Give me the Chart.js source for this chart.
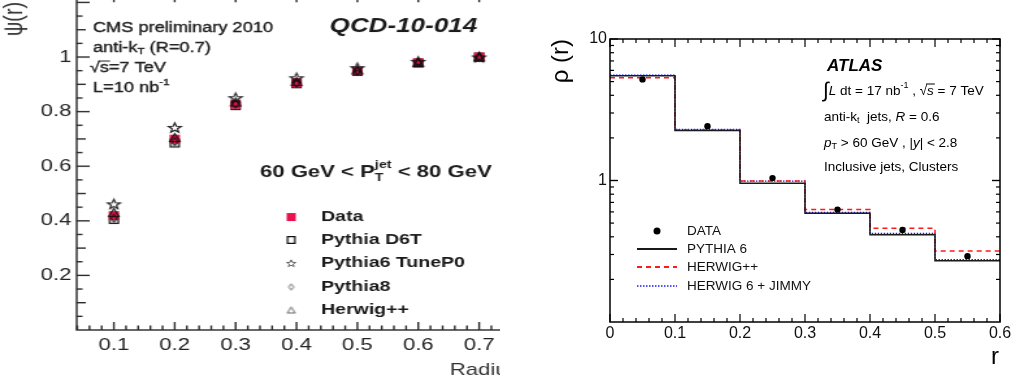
<!DOCTYPE html>
<html>
<head>
<meta charset="utf-8">
<script src="https://cdn.jsdelivr.net/npm/chart.js@4.4.1/dist/chart.umd.min.js"></script>
<style>
  html, body { margin: 0; padding: 0; background: #fff; }
  #wrap { position: relative; width: 1019px; height: 381px; overflow: hidden; background: #fff; }
  #psiBox { position: absolute; left: 0; top: 0; width: 500px; height: 381px; overflow: hidden; }
  #psiChart { position: absolute; left: 0; top: -20px; transform: scaleX(1.3); transform-origin: 0 0; filter: blur(0.5px); }
  #rhoChart { position: absolute; left: 540px; top: 0; }
</style>
</head>
<body>
<div id="wrap">
  <div id="psiBox"><canvas id="psiChart" width="440" height="401"></canvas></div>
  <canvas id="rhoChart" width="479" height="381"></canvas>
</div>
<script>
// ---- Integrated jet shape psi(r), 60 GeV < pT < 80 GeV ----
const psiRadii    = [0.1, 0.2, 0.3, 0.4, 0.5, 0.6, 0.7];
const psiData     = [0.419, 0.699, 0.827, 0.906, 0.949, 0.979, 1.0];
const psiD6T      = [0.405, 0.685, 0.822, 0.902, 0.947, 0.978, 1.0];
const psiTuneP0   = [0.462, 0.742, 0.851, 0.924, 0.961, 0.984, 1.0];
const psiPythia8  = [0.410, 0.690, 0.828, 0.905, 0.950, 0.980, 1.0];
const psiHerwigPP = [0.430, 0.705, 0.835, 0.910, 0.952, 0.980, 1.0];
const psiXTicks   = [0.1, 0.2, 0.3, 0.4, 0.5, 0.6, 0.7];
const psiYTicks   = [0.2, 0.4, 0.6, 0.8, 1];

// ---- Differential jet shape rho(r), anti-kt R = 0.6 ----
const rhoEdges        = [0, 0.1, 0.2, 0.3, 0.4, 0.5, 0.6];
const rhoCenters      = [0.05, 0.15, 0.25, 0.35, 0.45, 0.55];
const rhoData         = [5.18, 2.42, 1.04, 0.623, 0.447, 0.292];
const rhoPythia6      = [5.49, 2.26, 0.957, 0.586, 0.414, 0.271];
const rhoHerwigPP     = [5.32, 2.27, 0.99, 0.623, 0.459, 0.317];
const rhoHerwig6Jimmy = [5.56, 2.30, 0.99, 0.596, 0.423, 0.276];
const rhoXTicks       = [0, 0.1, 0.2, 0.3, 0.4, 0.5, 0.6];
const rhoYTicks       = [1, 10];

const FAMILY = '"Liberation Sans", Arial, Helvetica, sans-serif';
const F = (size, style) => `${style || ''} ${size}px ${FAMILY}`.trim();
Chart.defaults.font.family = FAMILY;

// draws a run of text pieces (sub/superscripts, italics) left to right
function rich(ctx, x, y, parts, heavy) {
  let cx = x;
  for (const p of parts) {
    ctx.font = p.f;
    const w = ctx.measureText(p.t).width;
    ctx.fillText(p.t, cx, y + (p.dy || 0));
    if (heavy) ctx.strokeText(p.t, cx, y + (p.dy || 0));
    if (p.over) {
      ctx.save();
      ctx.lineWidth = 1;
      ctx.strokeStyle = ctx.fillStyle;
      ctx.beginPath();
      ctx.moveTo(cx - 1, y + p.over);
      ctx.lineTo(cx + w + 1, y + p.over);
      ctx.stroke();
      ctx.restore();
    }
    cx += (p.adv !== undefined) ? p.adv : w;
  }
  return cx;
}

function line(ctx, x1, y1, x2, y2) {
  ctx.beginPath(); ctx.moveTo(x1, y1); ctx.lineTo(x2, y2); ctx.stroke();
}

// small marker images for the psi(r) series
function makeMarker(kind, w, h, color, lw) {
  const pad = 2;
  const c = document.createElement('canvas');
  c.width = w + pad * 2; c.height = h + pad * 2;
  const g = c.getContext('2d');
  g.translate(pad, pad);
  g.strokeStyle = color; g.fillStyle = color; g.lineWidth = lw;
  g.lineJoin = 'miter';
  g.beginPath();
  if (kind === 'fillsquare') { g.fillRect(0, 0, w, h); return c; }
  if (kind === 'square') g.rect(lw / 2, lw / 2, w - lw, h - lw);
  if (kind === 'diamond') { g.moveTo(w / 2, 0.5); g.lineTo(w - 0.5, h / 2); g.lineTo(w / 2, h - 0.5); g.lineTo(0.5, h / 2); g.closePath(); }
  if (kind === 'triangle') { g.moveTo(w / 2, 0.5); g.lineTo(w - 0.5, h - 0.5); g.lineTo(0.5, h - 0.5); g.closePath(); }
  if (kind === 'star') {
    const cx = w / 2, cy = h / 2 + 0.6, R = w / 2 - 0.3, r = R * 0.42;
    for (let i = 0; i < 10; i++) {
      const ang = -Math.PI / 2 + i * Math.PI / 5;
      const rad = i % 2 === 0 ? R : r;
      const px = cx + rad * Math.cos(ang), py = cy + rad * Math.sin(ang);
      if (i === 0) g.moveTo(px, py); else g.lineTo(px, py);
    }
    g.closePath();
  }
  g.stroke();
  return c;
}

const mkData   = makeMarker('fillsquare', 8, 9, '#e8144c', 1);
const mkD6T    = makeMarker('square', 8, 9, '#111', 1.3);
const mkTuneP0 = makeMarker('star', 11, 11, '#111', 1.1);
const mkPy8    = makeMarker('diamond', 6, 9, '#111', 1.1);
const mkHerwig = makeMarker('triangle', 9, 9, '#111', 1.1);

// smaller, lighter versions used in the key
const keyData   = makeMarker('fillsquare', 7, 8, '#e8144c', 1);
const keyD6T    = makeMarker('square', 7, 8, '#111', 1.3);
const keyTuneP0 = makeMarker('star', 8, 8, '#555', 0.9);
const keyPy8    = makeMarker('diamond', 5, 7, '#555', 0.9);
const keyHerwig = makeMarker('triangle', 7, 7, '#555', 0.9);

const pts = (xs, ys) => xs.map((x, i) => ({ x, y: ys[i] }));

// ---------------- psi(r) panel ----------------
const psiDecor = {
  id: 'psiDecor',
  afterDraw(chart) {
    const { ctx, chartArea: a, scales: { x, y } } = chart;
    ctx.save();
    ctx.strokeStyle = '#2a2a2a';
    ctx.lineWidth = 1.4;
    ctx.strokeRect(a.left, a.top, a.right - a.left, a.bottom - a.top);
    for (let k = 1; k * 0.05 <= y.max + 1e-9; k++) {
      const p = y.getPixelForValue(k * 0.05);
      const len = k % 4 === 0 ? 10 : (k % 2 === 0 ? 7 : 4.5);
      line(ctx, a.left, p, a.left + len, p);
    }
    for (let k = 1; k * 0.02 <= x.max + 1e-9; k++) {
      const v = k * 0.02;
      if (v < x.min) continue;
      const p = x.getPixelForValue(v);
      const len = k % 5 === 0 ? 8 : 4.5;
      line(ctx, p, a.bottom, p, a.bottom - len);
      line(ctx, p, a.top, p, a.top + len);
    }

    ctx.textBaseline = 'middle';
    ctx.textAlign = 'left';
    // axis titles
    ctx.fillStyle = '#333';
    ctx.font = F(17);
    ctx.fillText('Radius', 346, 390);
    ctx.save();
    ctx.font = F(20);
    ctx.translate(11, 56);
    ctx.rotate(-Math.PI / 2);
    ctx.fillText('\u03C8(r)', 0, 0);
    ctx.restore();

    // run information
    ctx.fillStyle = '#1a1a1a';
    ctx.strokeStyle = '#1a1a1a';
    ctx.lineWidth = 0.35;
    rich(ctx, 71.5, 48, [{ t: 'CMS preliminary 2010', f: F(14) }], true);
    rich(ctx, 71.5, 68, [
      { t: 'anti-k', f: F(14) },
      { t: 'T', f: F(9), dy: 4 },
      { t: ' (R=0.7)', f: F(14) }
    ], true);
    rich(ctx, 69, 88, [
      { t: '\u221A', f: F(14) },
      { t: 's', f: F(14), over: -7 },
      { t: '=7 TeV', f: F(14) }
    ], true);
    rich(ctx, 71.5, 108, [
      { t: 'L=10 nb', f: F(14) },
      { t: '-1', f: F(9), dy: -5 }
    ], true);
    ctx.textAlign = 'right';
    ctx.font = F(20, 'italic bold');
    ctx.fillText('QCD-10-014', 367, 46);
    ctx.textAlign = 'left';
    rich(ctx, 200, 192, [
      { t: '60 GeV < P', f: F(17, 'bold') },
      { t: 'T', f: F(11, 'bold'), dy: 6, adv: 0 },
      { t: 'jet', f: F(11, 'bold'), dy: -7 },
      { t: ' < 80 GeV', f: F(17, 'bold') }
    ]);

    // key, one row per series
    const rows = [237, 260, 283, 307, 330];
    chart.data.datasets.forEach((ds, i) => {
      const img = ds.keyMarker;
      ctx.drawImage(img, 224 - img.width / 2, rows[i] - img.height / 2);
      ctx.font = F(15, 'bold');
      ctx.fillStyle = '#1a1a1a';
      ctx.fillText(ds.label, 247, rows[i]);
    });
    ctx.restore();
  }
};

new Chart(document.getElementById('psiChart'), {
  type: 'scatter',
  data: {
    datasets: [
      { label: 'Data', data: pts(psiRadii, psiData), pointStyle: mkData, keyMarker: keyData, pointRadius: 5, order: 4 },
      { label: 'Pythia D6T', data: pts(psiRadii, psiD6T), pointStyle: mkD6T, keyMarker: keyD6T, pointRadius: 5, order: 5 },
      { label: 'Pythia6 TuneP0', data: pts(psiRadii, psiTuneP0), pointStyle: mkTuneP0, keyMarker: keyTuneP0, pointRadius: 5, order: 1 },
      { label: 'Pythia8', data: pts(psiRadii, psiPythia8), pointStyle: mkPy8, keyMarker: keyPy8, pointRadius: 5, order: 3 },
      { label: 'Herwig++', data: pts(psiRadii, psiHerwigPP), pointStyle: mkHerwig, keyMarker: keyHerwig, pointRadius: 5, order: 2 }
    ]
  },
  options: {
    responsive: false,
    animation: false,
    devicePixelRatio: 1,
    layout: { autoPadding: false, padding: { left: 0, top: 13, right: 48, bottom: 0 } },
    plugins: { legend: { display: false }, tooltip: { enabled: false } },
    scales: {
      x: {
        type: 'linear', min: 0.039, max: 0.75,
        grid: { display: false, drawTicks: false }, border: { display: false },
        afterBuildTicks: s => { s.ticks = psiXTicks.map(v => ({ value: v })); },
        afterFit: s => { s.height = 51; },
        ticks: { font: { size: 17 }, color: '#222', padding: 5, maxRotation: 0, autoSkip: false,
                 callback: v => v.toFixed(1) }
      },
      y: {
        type: 'linear', min: 0, max: 1.23,
        grid: { display: false, drawTicks: false }, border: { display: false },
        afterBuildTicks: s => { s.ticks = psiYTicks.map(v => ({ value: v })); },
        afterFit: s => { s.width = 59; },
        ticks: { font: { size: 17 }, color: '#222', padding: 4,
                 callback: v => (v === 1 ? '1' : v.toFixed(1)) }
      }
    }
  },
  plugins: [psiDecor]
});

// ---------------- rho(r) panel ----------------
const stepPts = vals => rhoEdges.map((x, i) => ({ x, y: vals[Math.min(i, vals.length - 1)] }));

const rhoDecor = {
  id: 'rhoDecor',
  afterDraw(chart) {
    const { ctx, chartArea: a, scales: { x, y } } = chart;
    ctx.save();
    ctx.strokeStyle = '#000';
    ctx.lineWidth = 1.5;
    ctx.strokeRect(a.left, a.top, a.right - a.left, a.bottom - a.top);
    ctx.lineWidth = 1.2;
    for (let k = 0; k <= 30; k++) {
      const p = x.getPixelForValue(k * 0.02);
      const len = k % 5 === 0 ? 8 : 4;
      line(ctx, p, a.bottom, p, a.bottom - len);
      line(ctx, p, a.top, p, a.top + len);
    }
    for (const dec of [0.1, 1]) {
      for (let m = 1; m <= 10; m++) {
        const v = m * dec;
        if (v <= y.min * 1.0001 || v > y.max * 1.0001) continue;
        const p = y.getPixelForValue(v);
        const len = (m === 1 || m === 10) ? 8 : 4;
        line(ctx, a.left, p, a.left + len, p);
        line(ctx, a.right, p, a.right - len, p);
      }
    }

    ctx.fillStyle = '#000';
    ctx.textBaseline = 'middle';
    // axis titles
    ctx.font = F(24);
    ctx.textAlign = 'right';
    ctx.fillText('r', 459, 357);
    ctx.save();
    ctx.translate(21, 39);
    ctx.rotate(-Math.PI / 2);
    ctx.fillText('\u03C1 (r)', 0, 0);
    ctx.restore();

    // ATLAS labels
    ctx.textAlign = 'left';
    ctx.font = F(17, 'italic bold');
    ctx.fillText('ATLAS', 287, 66);
    const s = 13.5;
    rich(ctx, 283, 91, [
      { t: '\u222B', f: F(21), dy: 0 },
      { t: 'L', f: F(s, 'italic') },
      { t: ' dt = 17 nb', f: F(s) },
      { t: '-1', f: F(9), dy: -5 },
      { t: ' , ', f: F(s) },
      { t: '\u221A', f: F(s) },
      { t: 's', f: F(s, 'italic'), over: -7 },
      { t: ' = 7 TeV', f: F(s) }
    ]);
    rich(ctx, 284, 117, [
      { t: 'anti-k', f: F(s) },
      { t: 't', f: F(9), dy: 4 },
      { t: '  jets, ', f: F(s) },
      { t: 'R', f: F(s, 'italic') },
      { t: ' = 0.6', f: F(s) }
    ]);
    rich(ctx, 284, 143, [
      { t: 'p', f: F(s, 'italic') },
      { t: 'T', f: F(9), dy: 4 },
      { t: ' > 60 GeV , |', f: F(s) },
      { t: 'y', f: F(s, 'italic') },
      { t: '| < 2.8', f: F(s) }
    ]);
    ctx.font = F(s);
    ctx.fillText('Inclusive jets, Clusters', 284, 167);

    // legend
    const rows = [231, 249, 267, 286];
    chart.data.datasets.forEach((ds, i) => {
      const yy = rows[i];
      if (ds.type === 'scatter') {
        ctx.beginPath();
        ctx.arc(117, yy, 3.5, 0, Math.PI * 2);
        ctx.fillStyle = ds.backgroundColor;
        ctx.fill();
      } else {
        ctx.save();
        ctx.strokeStyle = ds.borderColor;
        ctx.lineWidth = ds.borderWidth + 0.4;
        ctx.setLineDash(ds.borderDash || []);
        line(ctx, 97, yy, 137, yy);
        ctx.restore();
      }
      ctx.fillStyle = '#111';
      ctx.font = F(s);
      ctx.fillText(ds.label, 147, yy);
    });
    ctx.restore();
  }
};

new Chart(document.getElementById('rhoChart'), {
  type: 'line',
  data: {
    datasets: [
      { type: 'scatter', label: 'DATA', data: pts(rhoCenters, rhoData),
        backgroundColor: '#000', borderColor: '#000', pointRadius: 3.2, pointBorderWidth: 0 },
      { label: 'PYTHIA 6', data: stepPts(rhoPythia6), stepped: true,
        borderColor: '#1a1a1a', borderWidth: 1.5, pointRadius: 0, fill: false },
      { label: 'HERWIG++', data: stepPts(rhoHerwigPP), stepped: true,
        borderColor: '#ff1a1a', borderWidth: 1.5, borderDash: [5, 4], pointRadius: 0, fill: false },
      { label: 'HERWIG 6 + JIMMY', data: stepPts(rhoHerwig6Jimmy), stepped: true,
        borderColor: '#1a1aff', borderWidth: 1.2, borderDash: [1.5, 1.5], pointRadius: 0, fill: false }
    ]
  },
  options: {
    responsive: false,
    animation: false,
    devicePixelRatio: 1,
    layout: { autoPadding: false, padding: { left: 0, top: 39, right: 19, bottom: 0 } },
    plugins: { legend: { display: false }, tooltip: { enabled: false } },
    scales: {
      x: {
        type: 'linear', min: 0, max: 0.6,
        grid: { display: false, drawTicks: false }, border: { display: false },
        afterBuildTicks: s => { s.ticks = rhoXTicks.map(v => ({ value: v })); },
        afterFit: s => { s.height = 59; },
        ticks: { font: { size: 16 }, color: '#111', padding: 2, maxRotation: 0, autoSkip: false,
                 callback: v => (v === 0 ? '0' : v.toFixed(1)) }
      },
      y: {
        type: 'logarithmic', min: 0.1, max: 10,
        grid: { display: false, drawTicks: false }, border: { display: false },
        afterBuildTicks: s => { s.ticks = rhoYTicks.map(v => ({ value: v })); },
        afterFit: s => { s.width = 70; },
        ticks: { font: { size: 16 }, color: '#111', padding: 3,
                 callback: v => String(v) }
      }
    }
  },
  plugins: [rhoDecor]
});
</script>
</body>
</html>
